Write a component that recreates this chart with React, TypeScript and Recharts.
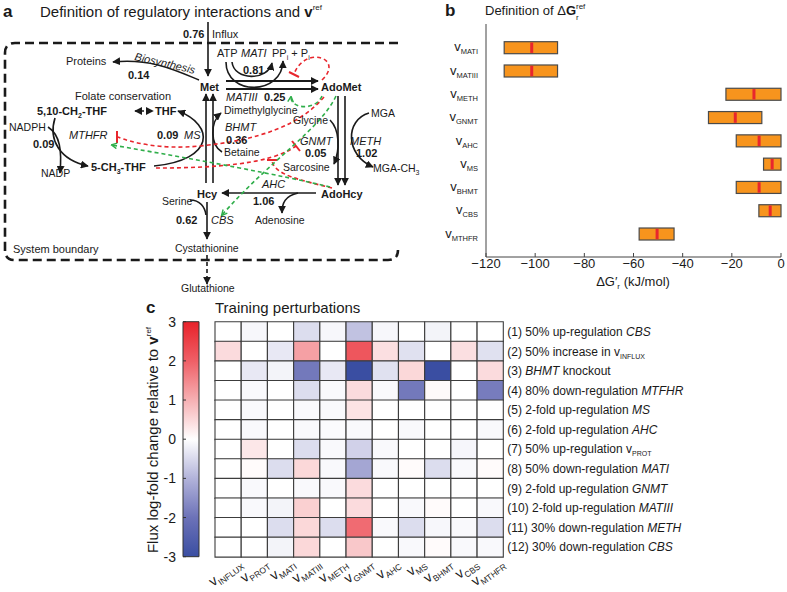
import React from 'react';
import { BarChart, Bar, XAxis, YAxis, Cell } from 'recharts';

const FONT = '"Liberation Sans", Arial, Helvetica, sans-serif';
const INK = '#1a1a1a';
const RED = '#e8262d';
const GREEN = '#2fae4a';

// ---- panel b: reference Gibbs energy ranges (kJ/mol)
const dgReactions = ['MATI', 'MATIII', 'METH', 'GNMT', 'AHC', 'MS', 'BHMT', 'CBS', 'MTHFR'];
const dgLower = [-112.6, -112.6, -22.4, -29.5, -18.2, -7.1, -18.2, -9.0, -57.7];
const dgUpper = [-90.9, -90.9, 0, -7.8, 0, 0, 0, 0, -43.5];
const dgRef = [-101.4, -101.4, -11.0, -18.6, -8.9, -3.6, -8.9, -4.4, -50.4];
const dgTicks = [-120, -100, -80, -60, -40, -20, 0];

// ---- panel c: training perturbations heatmap
const fluxColumns = ['INFLUX', 'PROT', 'MATI', 'MATIII', 'METH', 'GNMT', 'AHC', 'MS', 'BHMT', 'CBS', 'MTHFR'];
const perturbationText: [string, string, string, string][] = [
  ['(1) 50% up-regulation ', 'CBS', '', 'i'],
  ['(2) 50% increase in v', 'INFLUX', '', 's'],
  ['(3) ', 'BHMT', ' knockout', 'i'],
  ['(4) 80% down-regulation ', 'MTFHR', '', 'i'],
  ['(5) 2-fold up-regulation ', 'MS', '', 'i'],
  ['(6) 2-fold up-regulation ', 'AHC', '', 'i'],
  ['(7) 50% up-regulation v', 'PROT', '', 's'],
  ['(8) 50% down-regulation ', 'MATI', '', 'i'],
  ['(9) 2-fold up-regulation ', 'GNMT', '', 'i'],
  ['(10) 2-fold up-regulation ', 'MATIII', '', 'i'],
  ['(11) 30% down-regulation ', 'METH', '', 'i'],
  ['(12) 30% down-regulation ', 'CBS', '', 'i'],
];
// rows = perturbations, columns = fluxColumns
const logFold = [
  [0, -0.1, 0, -0.45, -0.1, -0.8, -0.1, 0, -0.15, 0, 0],
  [0.45, 0, -0.3, 1.2, 0, 2.15, 0.4, -0.4, 0, 0.4, -0.4],
  [0, -0.3, -0.15, -1.9, -0.3, -3.0, -0.4, 0.5, -3.0, 0, 0.45],
  [0, -0.08, 0, -0.45, -0.08, 0.45, -0.08, -1.9, 0.08, 0, -1.85],
  [0, -0.08, 0, -0.08, -0.08, 0.35, 0, 0, 0, 0, 0],
  [0, -0.08, 0, -0.08, -0.05, -0.08, 0, -0.08, 0, 0, -0.08],
  [0, 0.3, 0, -0.45, -0.08, -0.6, -0.08, 0, 0, -0.12, 0],
  [0, 0.05, -0.45, 0.5, -0.08, -1.2, -0.08, 0.05, -0.45, -0.08, 0.05],
  [0, -0.08, 0, -0.08, -0.08, 0.45, 0, 0, 0, 0, 0],
  [0, -0.08, -0.15, 0.6, 0, 0.45, 0, -0.08, 0.05, 0, -0.08],
  [0, 0, -0.45, 0.5, -0.45, 1.85, -0.08, -0.45, -0.1, -0.08, -0.45],
  [0, 0, -0.15, 0.5, 0, 0.7, 0, -0.08, 0.05, -0.08, -0.08],
];
const colorbarTicks = [-3, -2, -1, 0, 1, 2, 3];
const colormap: [number, string][] = [
  [-3, '#3a4ea2'], [-2, '#6c72b8'], [-1, '#b2b3da'], [0, '#ffffff'],
  [1, '#f6b0b3'], [2, '#ef5f66'], [3, '#e8222a'],
];

// heatmap placement on the page
const HM_LEFT = 180;
const HM_TOP = 300;
const HM_MARGIN_LEFT = 35;
const HM_PLOT_W = 288.3;

const rgb = (c: string) => [1, 3, 5].map((k) => parseInt(c.slice(k, k + 2), 16));
function colorFor(v: number) {
  const t = Math.max(-3, Math.min(3, v));
  for (let k = 0; k < colormap.length - 1; k++) {
    const [a, ca] = colormap[k];
    const [b, cb] = colormap[k + 1];
    if (t <= b) {
      const f = (t - a) / (b - a);
      const A = rgb(ca);
      const B = rgb(cb);
      const m = A.map((q, n) => Math.round(q + (B[n] - q) * f));
      return `rgb(${m[0]},${m[1]},${m[2]})`;
    }
  }
  return colormap[colormap.length - 1][1];
}

const minus = (v: number) => (v < 0 ? `\u2212${Math.abs(v)}` : String(v));

const dgData = dgReactions.map((name, i) => ({
  name, range: [dgLower[i], dgUpper[i]], low: dgLower[i], high: dgUpper[i], ref: dgRef[i],
}));

const heatData = logFold.map((_, i) => {
  const d: any = { id: `p${i}` };
  fluxColumns.forEach((c) => { d[c] = 1; });
  return d;
});

const DgBar = (props: any) => {
  const { x, y, width, height, payload } = props;
  const left = Math.min(x, x + width);
  const w = Math.abs(width);
  const mx = left + (w * (payload.ref - payload.low)) / (payload.high - payload.low);
  return (
    <g>
      <rect x={left} y={y} width={w} height={height} fill="#f7941d" stroke="#4a4a4a" strokeWidth={1.2} />
      <line x1={mx} x2={mx} y1={y + 0.8} y2={y + height - 0.8} stroke={RED} strokeWidth={3} />
    </g>
  );
};

const VTick = ({ x, y, payload }: any) => (
  <text x={x} y={y} dy={4} textAnchor="end" fontFamily={FONT} fill={INK} fontSize={13}>
    v<tspan fontSize={7.5} dy={3}>{payload.value}</tspan>
  </text>
);

const RowTick = ({ x, y, payload }: any) => {
  const idx = Number(String(payload.value).slice(1));
  const [pre, key, post, style] = perturbationText[idx];
  return (
    <text x={x} y={y} dy={4.5} fontSize={12} fontFamily={FONT} fill={INK} textAnchor="start">
      {pre}
      {style === 'i' ? <tspan fontStyle="italic">{key}</tspan> : <tspan fontSize={7} dy={3}>{key}</tspan>}
      {post ? <tspan>{post}</tspan> : null}
    </text>
  );
};

// slanted column label, rotation written as an explicit matrix
const SlantLabel = ({ x, y, deg, name }: any) => {
  const a = (deg * Math.PI) / 180;
  const c = Math.cos(a).toFixed(4);
  const s = Math.sin(a).toFixed(4);
  return (
    <g transform={`matrix(${c} ${s} ${(-Math.sin(a)).toFixed(4)} ${c} ${x.toFixed(1)} ${y.toFixed(1)})`}>
      <text x={0} y={0} textAnchor="end" fontFamily={FONT} fill={INK} fontSize={14}>
        v<tspan fontSize={8.5} dy={3.5}>{name}</tspan>
      </text>
    </g>
  );
};

const L = ({ x, y, b, i, s = 11, children, anchor, rot }: any) => (
  <text
    x={x} y={y} fontSize={s} fontWeight={b ? 'bold' : 'normal'} fontStyle={i ? 'italic' : 'normal'}
    fill={INK} fontFamily={FONT} textAnchor={anchor}
    transform={rot ? `rotate(${rot} ${x} ${y})` : undefined}
  >
    {children}
  </text>
);

const Diagram = () => {
  const k = { stroke: INK, strokeWidth: 1.6, fill: 'none' } as const;
  const red = { stroke: RED, strokeWidth: 1.6, fill: 'none', strokeDasharray: '4 3' } as const;
  const green = { stroke: GREEN, strokeWidth: 1.6, fill: 'none', strokeDasharray: '4 3', markerEnd: 'url(#ga)' } as const;
  return (
    <g>
      <defs>
        <marker id="ka" viewBox="0 0 10 10" refX="9" refY="5" markerWidth="8" markerHeight="8" markerUnits="userSpaceOnUse" orient="auto-start-reverse">
          <path d="M0,0 L10,5 L0,10 z" fill={INK} />
        </marker>
        <marker id="ga" viewBox="0 0 10 10" refX="8" refY="5" markerWidth="7" markerHeight="7" markerUnits="userSpaceOnUse" orient="auto">
          <path d="M1,1 L9,5 L1,9" fill="none" stroke={GREEN} strokeWidth="2" />
        </marker>
      </defs>

      {/* system boundary */}
      <path d="M398 43 H15 Q5 43 5 53 V250 Q5 260 15 260 H388 Q398 260 398 250"
        fill="none" stroke={INK} strokeWidth={2.6} strokeDasharray="9 5" />

      {/* black reactions */}
      <path d="M208 22 V76" {...k} markerEnd="url(#ka)" />
      <path d="M226 81 H318" {...k} strokeWidth={1.8} markerEnd="url(#ka)" />
      <path d="M226 89 H318" {...k} strokeWidth={1.8} markerEnd="url(#ka)" />
      <path d="M226 62 C226 96, 282 96, 283 61" {...k} markerEnd="url(#ka)" />
      <path d="M232 62 C234 81, 268 81, 272 63" {...k} markerEnd="url(#ka)" />
      <path d="M199 80 C175 70, 150 58, 113 62" {...k} markerEnd="url(#ka)" />
      <path d="M206 183 V94" {...k} markerEnd="url(#ka)" />
      <path d="M213 183 V94" {...k} markerEnd="url(#ka)" />
      <path d="M338 96 V185" {...k} markerEnd="url(#ka)" />
      <path d="M345 96 V185" {...k} markerEnd="url(#ka)" />
      <path d="M316 193 H222" {...k} markerEnd="url(#ka)" />
      <path d="M207 202 V239" {...k} markerEnd="url(#ka)" />
      <path d="M207 255 V284" {...k} strokeDasharray="4 3" markerEnd="url(#ka)" />
      <path d="M135 111 H153" {...k} strokeDasharray="3 3" markerStart="url(#ka)" markerEnd="url(#ka)" />
      <path d="M48 127 C60 135, 62 150, 60 173" {...k} markerEnd="url(#ka)" />
      <path d="M55 118 C48 140, 60 160, 88 166" {...k} markerEnd="url(#ka)" />
      <path d="M154 166 C215 160, 215 125, 178 111" {...k} markerEnd="url(#ka)" />
      <path d="M222 152 C210 145, 210 122, 221 113" {...k} markerEnd="url(#ka)" />
      <path d="M190 200 C200 200, 205 207, 206 215" {...k} />
      <path d="M298 193 C285 196, 282 203, 282 213" {...k} markerEnd="url(#ka)" />
      <path d="M330 120 C340 130, 340 150, 334 164" {...k} markerEnd="url(#ka)" />
      <path d="M369 113 C345 120, 345 155, 373 167" {...k} markerEnd="url(#ka)" />

      {/* inhibitions */}
      <path d="M322 80 C345 58, 305 45, 294 74" {...red} />
      <path d="M289 72 L299 77" stroke={RED} strokeWidth={2} />
      <path d="M324 97 C300 125, 260 140, 200 146 C160 150, 130 142, 118 137" {...red} />
      <path d="M117 131 V143" stroke={RED} strokeWidth={2} />
      <path d="M156 168 C210 168, 270 165, 296 146" {...red} />
      <path d="M292 141 L300 151" stroke={RED} strokeWidth={2} />
      <path d="M332 188 C300 180, 275 175, 272 161" {...red} />
      <path d="M267 160 H277" stroke={RED} strokeWidth={2} />

      {/* activations */}
      <path d="M322 96 C315 112, 290 108, 291 97" {...green} />
      <path d="M336 96 C320 130, 270 160, 222 215" {...green} />
      <path d="M330 187 C280 175, 200 160, 112 145" {...green} />

      {/* labels */}
      <L x={3} y={17} b s={17}>a</L>
      <L x={40} y={17} s={15}>Definition of regulatory interactions and <tspan fontWeight="bold">v</tspan><tspan fontSize={8} dy={-7}>ref</tspan></L>
      <L x={183} y={38} b>0.76</L>
      <L x={212} y={38}>Influx</L>
      <L x={217} y={57}>ATP</L>
      <L x={241} y={57} i>MATI</L>
      <L x={272} y={57}>PP<tspan fontSize={7} dy={3}>i</tspan><tspan dy={-3}> + P</tspan><tspan fontSize={7} dy={3}>i</tspan></L>
      <L x={243} y={74} b>0.81</L>
      <L x={66} y={65}>Proteins</L>
      <L x={134} y={60} i rot={13}>Biosynthesis</L>
      <L x={128} y={79} b>0.14</L>
      <L x={200} y={91} b>Met</L>
      <L x={321} y={91} b>AdoMet</L>
      <L x={226} y={101} i>MATIII</L>
      <L x={264} y={101} b>0.25</L>
      <L x={75} y={100}>Folate conservation</L>
      <L x={37} y={115} b>5,10-CH<tspan fontSize={7} dy={3}>2</tspan><tspan dy={-3}>-THF</tspan></L>
      <L x={155} y={115} b>THF</L>
      <L x={224} y={114} s={10.5}>Dimethylglycine</L>
      <L x={293} y={124} s={10.5}>Glycine</L>
      <L x={371} y={117} s={10.5}>MGA</L>
      <L x={9} y={131} s={10.5}>NADPH</L>
      <L x={69} y={139} i>MTHFR</L>
      <L x={157} y={139} b>0.09</L>
      <L x={184} y={139} i>MS</L>
      <L x={225} y={131} i>BHMT</L>
      <L x={226} y={144} b>0.36</L>
      <L x={300} y={145} i>GNMT</L>
      <L x={350} y={145} i>METH</L>
      <L x={33} y={148} b>0.09</L>
      <L x={305} y={157} b>0.05</L>
      <L x={356} y={157} b>1.02</L>
      <L x={224} y={156} s={10.5}>Betaine</L>
      <L x={91} y={171} b>5-CH<tspan fontSize={7} dy={3}>3</tspan><tspan dy={-3}>-THF</tspan></L>
      <L x={283} y={171} s={10.5}>Sarcosine</L>
      <L x={373} y={172} s={10.5}>MGA-CH<tspan fontSize={7} dy={3}>3</tspan></L>
      <L x={41} y={177} s={10.5}>NADP</L>
      <L x={197} y={198} b>Hcy</L>
      <L x={262} y={188} i>AHC</L>
      <L x={321} y={198} b>AdoHcy</L>
      <L x={253} y={205} b>1.06</L>
      <L x={162} y={205} s={10.5}>Serine</L>
      <L x={255} y={224} s={10.5}>Adenosine</L>
      <L x={176} y={224} b>0.62</L>
      <L x={211} y={224} i>CBS</L>
      <L x={175} y={252} s={10.5}>Cystathionine</L>
      <L x={13} y={253}>System boundary</L>
      <L x={181} y={292} s={10.5}>Glutathione</L>
    </g>
  );
};

export default function App() {
  const colW = HM_PLOT_W / fluxColumns.length;
  return (
    <div style={{ position: 'absolute', left: 0, top: 0, width: 787, height: 592, background: '#fff', fontFamily: FONT }}>
      {/* panel b */}
      <div style={{ position: 'absolute', left: 440, top: 0 }}>
        <BarChart layout="vertical" width={347} height={300} data={dgData} margin={{ top: 24, right: 6, bottom: 13, left: 0 }} barSize={12}>
          <XAxis type="number" domain={[-120, 0]} ticks={dgTicks} interval={0} height={30} tickFormatter={minus}
            tickSize={-4} tickMargin={6} stroke="#444" tick={{ fontSize: 13, fill: INK, fontFamily: FONT }} />
          <XAxis xAxisId="top" orientation="top" type="number" domain={[-120, 0]} ticks={dgTicks} interval={0}
            height={0} tick={false} mirror tickSize={4} stroke="#444" />
          <YAxis type="category" dataKey="name" width={46} padding={{ top: 11.7, bottom: 11.7 }} interval={0}
            tickLine={false} stroke="#444" tick={<VTick />} />
          <YAxis yAxisId="right" orientation="right" type="category" dataKey="name" width={0} interval={0}
            padding={{ top: 11.7, bottom: 11.7 }} tick={false} mirror tickSize={4} stroke="#444" />
          <Bar dataKey="range" shape={<DgBar />} isAnimationActive={false} />
        </BarChart>
      </div>

      {/* panel c colorbar */}
      <div style={{ position: 'absolute', left: 140, top: HM_TOP }}>
        <BarChart width={60} height={292} data={[{ k: 'cb', span: [-3, 3] }]} margin={{ top: 21.7, right: 1.3, bottom: 35.3, left: 0 }} barCategoryGap={0}>
          <defs>
            <linearGradient id="cbGrad" x1="0" y1="0" x2="0" y2="1">
              {colormap.slice().reverse().map(([v, c], n) => (
                <stop key={v} offset={n / (colormap.length - 1)} stopColor={c} />
              ))}
            </linearGradient>
          </defs>
          <XAxis dataKey="k" hide />
          <YAxis type="number" domain={[-3, 3]} ticks={colorbarTicks} interval={0} width={43} axisLine={false}
            tickSize={-3} tickMargin={10} stroke="#333" tick={{ fontSize: 14, fill: INK, fontFamily: FONT }} />
          <Bar dataKey="span" fill="url(#cbGrad)" stroke="#333" strokeWidth={1} isAnimationActive={false} />
        </BarChart>
      </div>

      {/* panel c heatmap */}
      <div style={{ position: 'absolute', left: HM_LEFT, top: HM_TOP }}>
        <BarChart layout="vertical" width={520} height={292} data={heatData}
          margin={{ top: 21.7, right: 0, bottom: 0, left: HM_MARGIN_LEFT }} barCategoryGap={0} barGap={0}>
          <XAxis type="number" domain={[0, 11]} height={35.3} axisLine={false} tickLine={false} tick={false} />
          <YAxis type="category" dataKey="id" orientation="right" width={520 - HM_MARGIN_LEFT - HM_PLOT_W} axisLine={false}
            tickLine={false} tickSize={0} tickMargin={4} interval={0} tick={<RowTick />} />
          {fluxColumns.map((c, j) => (
            <Bar key={c} dataKey={c} stackId="grid" isAnimationActive={false}>
              {logFold.map((r, i) => (
                <Cell key={i} fill={colorFor(r[j])} stroke="#3c3c3c" strokeWidth={1.1} />
              ))}
            </Bar>
          ))}
        </BarChart>
      </div>

      {/* static text and diagram */}
      <svg width={787} height={592} style={{ position: 'absolute', left: 0, top: 0, pointerEvents: 'none' }}>
        <Diagram />
        <L x={445} y={16} b s={17}>b</L>
        <L x={485} y={15} s={13}>Definition of Δ<tspan fontWeight="bold">G</tspan></L>
        <L x={576} y={9} s={8}>ref</L>
        <L x={576} y={20} s={8}>r</L>
        <L x={633} y={286} s={13} anchor="middle">ΔG′<tspan fontSize={8} dy={3}>r</tspan><tspan dy={-3}> (kJ/mol)</tspan></L>
        <L x={146} y={313} b s={17}>c</L>
        <L x={215} y={313} s={15}>Training perturbations</L>
        <L x={158} y={440} s={15} anchor="middle" rot={-90}>
          Flux log-fold change relative to <tspan fontWeight="bold">v</tspan><tspan fontSize={8} dy={-7}>ref</tspan>
        </L>
        {fluxColumns.map((c, j) => (
          <SlantLabel key={c} name={c} deg={-36} x={HM_LEFT + HM_MARGIN_LEFT + (j + 0.5) * colW + 15} y={565} />
        ))}
      </svg>
    </div>
  );
}
